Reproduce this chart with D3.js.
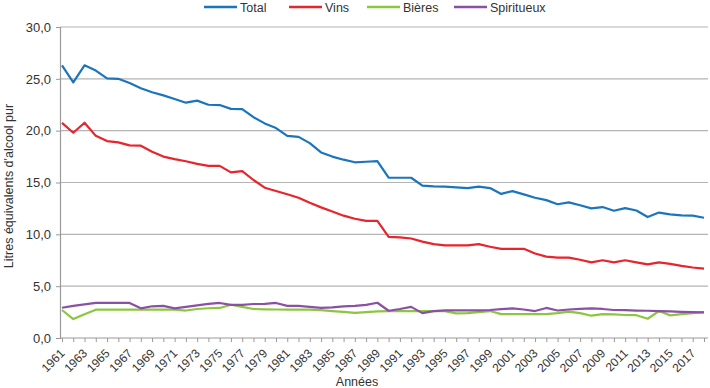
<!DOCTYPE html>
<html><head><meta charset="utf-8">
<script src="https://cdn.jsdelivr.net/npm/d3@7"></script>
<style>body{margin:0;background:#fff}svg{display:block;font-family:"Liberation Sans",Arial,sans-serif}</style>
</head><body><svg id="c" width="710" height="388"></svg>
<script>
const years = d3.range(1961, 2019);
const total = [26.3,24.65,26.3,25.8,25.05,25.0,24.6,24.1,23.7,23.4,23.05,22.7,22.9,22.5,22.47,22.1,22.08,21.3,20.7,20.25,19.5,19.4,18.8,17.9,17.5,17.2,16.95,17.0,17.07,15.46,15.46,15.46,14.7,14.63,14.6,14.53,14.46,14.6,14.46,13.9,14.17,13.86,13.53,13.3,12.9,13.08,12.8,12.5,12.63,12.28,12.53,12.3,11.67,12.1,11.93,11.83,11.8,11.6];
const vins = [20.75,19.8,20.76,19.5,19.0,18.87,18.58,18.55,17.97,17.5,17.26,17.05,16.8,16.6,16.6,15.98,16.1,15.24,14.5,14.18,13.86,13.53,13.05,12.6,12.2,11.8,11.5,11.3,11.3,9.75,9.7,9.6,9.3,9.05,8.93,8.93,8.93,9.05,8.8,8.6,8.6,8.6,8.15,7.85,7.75,7.75,7.55,7.3,7.5,7.3,7.5,7.3,7.1,7.3,7.15,6.95,6.8,6.7];
const bieres = [2.7,1.83,2.3,2.73,2.73,2.73,2.73,2.73,2.73,2.73,2.73,2.65,2.8,2.87,2.9,3.21,3.0,2.8,2.77,2.75,2.73,2.73,2.73,2.68,2.6,2.52,2.42,2.5,2.57,2.6,2.6,2.6,2.6,2.6,2.6,2.38,2.4,2.5,2.6,2.3,2.3,2.3,2.3,2.3,2.4,2.55,2.4,2.15,2.3,2.27,2.22,2.2,1.86,2.6,2.18,2.3,2.4,2.5];
const spiritueux = [2.92,3.1,3.25,3.38,3.38,3.38,3.38,2.86,3.06,3.1,2.86,3.0,3.15,3.3,3.38,3.2,3.2,3.28,3.3,3.38,3.1,3.1,3.0,2.9,2.95,3.05,3.1,3.2,3.4,2.63,2.8,3.0,2.4,2.6,2.67,2.67,2.67,2.67,2.7,2.78,2.86,2.75,2.6,2.9,2.65,2.75,2.8,2.86,2.8,2.7,2.68,2.65,2.63,2.6,2.56,2.52,2.5,2.48];
const seriesNames = ["Total","Vins","Bières","Spiritueux"];
const seriesColors = ["#1b75bc","#e8242c","#8cc63e","#8a50a5"];
const seriesData = [total, vins, bieres, spiritueux];
const yTicks = [0,5,10,15,20,25,30];

const svg = d3.select("#c");
const L = 60, R = 708, T = 27, B = 338;
const x = d3.scalePoint().domain(years).range([62, 704]);
const y = d3.scaleLinear().domain([0,30]).range([B, T]);
const fmt = v => d3.format(".1f")(v).replace(".", ",");

// gridlines
svg.append("g").selectAll("line").data(yTicks.filter(d=>d>0)).join("line")
  .attr("x1", L).attr("x2", R).attr("y1", d=>y(d)).attr("y2", d=>y(d))
  .attr("stroke", "#b4b4b4").attr("stroke-width", 1.2);

// y axis
const ya = svg.append("g").attr("transform", `translate(${L},0)`)
  .call(d3.axisLeft(y).tickValues(yTicks).tickFormat(fmt).tickSize(4).tickPadding(5));
ya.select(".domain").attr("stroke", "#999").attr("stroke-width",1.2);
ya.selectAll(".tick line").attr("stroke", "#999");
ya.selectAll("text").attr("font-size", 13).attr("fill", "#333").attr("font-family","Liberation Sans, Arial, sans-serif");

// x axis
const xa = svg.append("g").attr("transform", `translate(0,${B})`)
  .call(d3.axisBottom(x).tickValues(years).tickSize(4).tickFormat(d => d % 2 === 1 ? d : ""));
xa.select(".domain").attr("d", `M${L},0H${R}`).attr("stroke", "#999").attr("stroke-width",1.2);
xa.selectAll(".tick line").attr("stroke", "#999");
xa.selectAll("text").attr("font-size", 12).attr("fill", "#333")
  .attr("font-family","Liberation Sans, Arial, sans-serif")
  .attr("text-anchor", "end").attr("dy", null).attr("y", null)
  .attr("transform", "translate(3,16) rotate(-45)");

// lines
const line = d3.line().x((d,i)=>x(years[i])).y(d=>y(d));
seriesData.forEach((s,k) => {
  svg.append("path").datum(s).attr("d", line).attr("fill","none")
    .attr("stroke", seriesColors[k]).attr("stroke-width", 2.2).attr("stroke-linejoin","round");
});

// legend
const legX = [204, 289, 367, 454];
const lg = svg.append("g");
seriesNames.forEach((n,k) => {
  lg.append("line").attr("x1", legX[k]).attr("x2", legX[k]+33).attr("y1", 7).attr("y2", 7)
    .attr("stroke", seriesColors[k]).attr("stroke-width", 2.5);
  lg.append("text").attr("x", legX[k]+36).attr("y", 11.5).text(n)
    .attr("font-size", 12.5).attr("fill", "#333");
});

// axis titles
svg.append("text").attr("x", 357).attr("y", 386).attr("text-anchor","middle")
  .attr("font-size", 12.5).attr("fill","#333").text("Années");
svg.append("text").attr("transform", "translate(13,186) rotate(-90)").attr("text-anchor","middle")
  .attr("font-size", 12.5).attr("fill","#333").text("Litres équivalents d'alcool pur");
</script></body></html>
